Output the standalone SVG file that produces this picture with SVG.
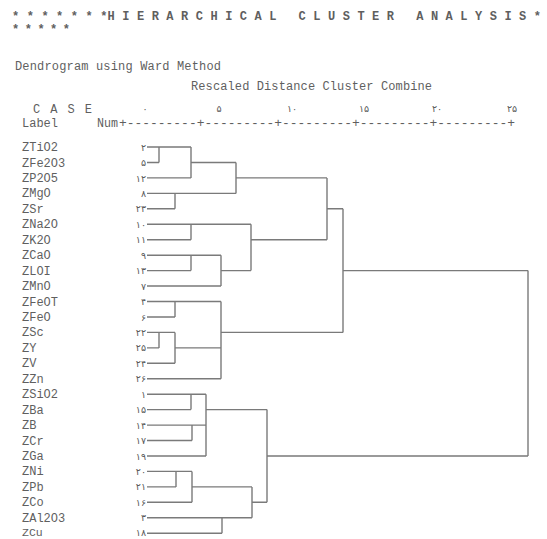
<svg xmlns="http://www.w3.org/2000/svg" width="547" height="539" viewBox="0 0 547 539">
<style>
.t{font-family:"Liberation Mono","DejaVu Sans Mono",monospace;font-size:12px;fill:#5f5f5f;white-space:pre}
.b{font-weight:bold}
.n{font-family:"DejaVu Sans","Noto Sans",sans-serif;font-size:9.5px;fill:#5a5a5a;text-anchor:end}
.s{font-family:"DejaVu Sans","Noto Sans",sans-serif;font-size:9.5px;fill:#5a5a5a;text-anchor:middle}
.c{fill:none;stroke:#7a7a7a;stroke-width:1.4}
</style>
<rect width="547" height="539" fill="#ffffff"/>
<g id="header">
<text class="t b" x="12" y="20" textLength="529" lengthAdjust="spacing" xml:space="preserve">* * * * * * *H I E R A R C H I C A L   C L U S T E R   A N A L Y S I S *</text>
<text class="t b" x="12" y="33" textLength="58" lengthAdjust="spacing" xml:space="preserve">* * * * *</text>
<text class="t" x="15" y="70" textLength="206" lengthAdjust="spacing">Dendrogram using Ward Method</text>
<text class="t" x="191" y="90" textLength="241" lengthAdjust="spacing">Rescaled Distance Cluster Combine</text>
<text class="t" x="33" y="113" textLength="59" lengthAdjust="spacing">C A S E</text>
<text class="t" x="22" y="127">Label</text>
<text class="t" x="97" y="127" textLength="21" lengthAdjust="spacingAndGlyphs">Num</text>
<text class="t" x="119" y="127" textLength="396" lengthAdjust="spacingAndGlyphs">+---------+---------+---------+---------+---------+</text>
<text class="s" x="145" y="112">۰</text>
<text class="s" x="219" y="112">۵</text>
<text class="s" x="292" y="112">۱۰</text>
<text class="s" x="364" y="112">۱۵</text>
<text class="s" x="437" y="112">۲۰</text>
<text class="s" x="512" y="112">۲۵</text>
</g>
<g id="leaves">
<g id="n1"><text class="t" x="22" y="151">ZTiO2</text><text class="n" x="146" y="150.5">۲</text></g>
<g id="n2"><text class="t" x="22" y="166.5">ZFe2O3</text><text class="n" x="146" y="166">۵</text></g>
<g id="n3"><text class="t" x="22" y="182">ZP2O5</text><text class="n" x="146" y="181.5">۱۲</text></g>
<g id="n4"><text class="t" x="22" y="197.4">ZMgO</text><text class="n" x="146" y="196.9">۸</text></g>
<g id="n5"><text class="t" x="22" y="212.8">ZSr</text><text class="n" x="146" y="212.3">۲۳</text></g>
<g id="n6"><text class="t" x="22" y="228.3">ZNa2O</text><text class="n" x="146" y="227.8">۱۰</text></g>
<g id="n7"><text class="t" x="22" y="243.7">ZK2O</text><text class="n" x="146" y="243.2">۱۱</text></g>
<g id="n8"><text class="t" x="22" y="259.2">ZCaO</text><text class="n" x="146" y="258.7">۹</text></g>
<g id="n9"><text class="t" x="22" y="274.6">ZLOI</text><text class="n" x="146" y="274.1">۱۳</text></g>
<g id="n10"><text class="t" x="22" y="290">ZMnO</text><text class="n" x="146" y="289.5">۷</text></g>
<g id="n11"><text class="t" x="22" y="305.5">ZFeOT</text><text class="n" x="146" y="305">۴</text></g>
<g id="n12"><text class="t" x="22" y="321">ZFeO</text><text class="n" x="146" y="320.5">۶</text></g>
<g id="n13"><text class="t" x="22" y="336.4">ZSc</text><text class="n" x="146" y="335.9">۲۲</text></g>
<g id="n14"><text class="t" x="22" y="351.8">ZY</text><text class="n" x="146" y="351.3">۲۵</text></g>
<g id="n15"><text class="t" x="22" y="367.3">ZV</text><text class="n" x="146" y="366.8">۲۴</text></g>
<g id="n16"><text class="t" x="22" y="382.7">ZZn</text><text class="n" x="146" y="382.2">۲۶</text></g>
<g id="n17"><text class="t" x="22" y="398.2">ZSiO2</text><text class="n" x="146" y="397.7">۱</text></g>
<g id="n18"><text class="t" x="22" y="413.6">ZBa</text><text class="n" x="146" y="413.1">۱۵</text></g>
<g id="n19"><text class="t" x="22" y="429.1">ZB</text><text class="n" x="146" y="428.6">۱۴</text></g>
<g id="n20"><text class="t" x="22" y="444.5">ZCr</text><text class="n" x="146" y="444">۱۷</text></g>
<g id="n21"><text class="t" x="22" y="460">ZGa</text><text class="n" x="146" y="459.5">۱۹</text></g>
<g id="n22"><text class="t" x="22" y="475.4">ZNi</text><text class="n" x="146" y="474.9">۲۰</text></g>
<g id="n23"><text class="t" x="22" y="490.9">ZPb</text><text class="n" x="146" y="490.4">۲۱</text></g>
<g id="n24"><text class="t" x="22" y="506.3">ZCo</text><text class="n" x="146" y="505.8">۱۶</text></g>
<g id="n25"><text class="t" x="22" y="521.8">ZAl2O3</text><text class="n" x="146" y="521.3">۳</text></g>
<g id="n26"><text class="t" x="22" y="535.8" style="font-size:11.5px">ZCu</text><text class="n" x="146" y="536">۱۸</text></g>
</g>
<g id="connectors" class="c">
<path class="c" d="M147 147H191 M159 147V162.5 M147 162.5H159 M191 147V177.9 M147 177.9H191 M191 162.5H236 M236 162.5V193.4 M147 193.4H236 M175 193.4V208.8 M147 208.8H175 M236 177.9H327"/>
<path class="c" d="M147 224.3H251 M191 224.3V239.7 M147 239.7H191 M147 255.2H221 M191 255.2V270.6 M147 270.6H191 M221 255.2V286 M147 286H221 M221 270.6H251 M251 224.3V270.6 M251 239.7H327 M327 177.9V239.7 M327 208.8H343"/>
<path class="c" d="M147 301.5H221 M175 301.5V317 M147 317H175 M147 332.4H175 M159 332.4V347.9 M147 347.9H159 M175 332.4V363.3 M147 363.3H175 M175 347.9H221 M147 378.7H221 M221 301.5V378.7 M221 332.4H343 M343 208.8V332.4 M343 270.6H528"/>
<path class="c" d="M147 394.2H206 M191 394.2V409.6 M147 409.6H191 M147 425.1H206 M192 425.1V440.5 M147 440.5H192 M147 456H206 M206 394.2V456 M206 409.6H267 M147 471.4H192 M176 471.4V486.9 M147 486.9H176 M192 471.4V502.3 M147 502.3H192 M192 486.9H252 M147 517.8H252 M222 517.8V533.2 M147 533.2H222 M252 486.9V517.8 M252 502.3H267 M267 409.6V502.3 M267 456H528 M528 270.6V456"/>
</g>
</svg>
